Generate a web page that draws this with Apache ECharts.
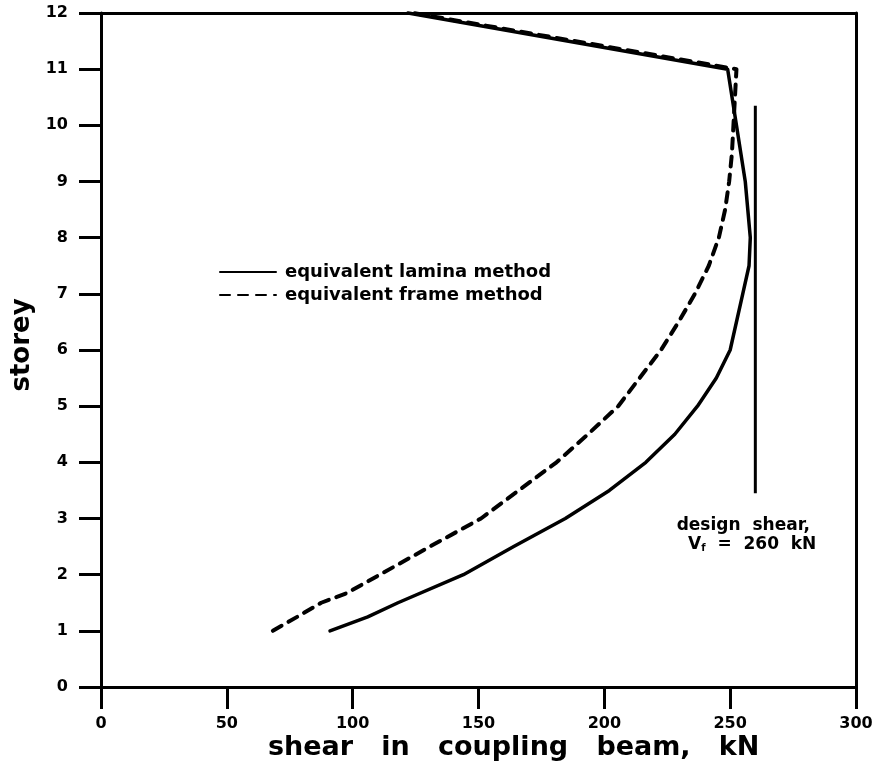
<!DOCTYPE html>
<html>
<head>
<meta charset="utf-8">
<script src="https://cdn.jsdelivr.net/npm/echarts@6/dist/echarts.min.js"></script>
<style>
  html, body { margin: 0; padding: 0; background: #fff; }
  #chart { width: 877px; height: 780px; }
</style>
</head>
<body>
<div id="chart"></div>
<script>
// Shear in the coupling beam at each storey (kN)
const storeyLamina = [1, 1.25, 1.5, 2, 2.5, 3, 3.5, 4, 4.5, 5, 5.5, 6, 7, 7.5, 8, 9, 10, 11, 12];
const shearLamina  = [91, 106, 118, 144, 164, 184.5, 202, 216.5, 228, 237, 244.5, 250, 255, 257.5, 258, 256, 252.5, 249, 122];

const storeyFrame = [1, 1.25, 1.5, 1.67, 2, 2.5, 3, 3.5, 4, 4.5, 5, 5.5, 6, 6.5, 7, 7.5, 8, 8.5, 9, 9.5, 10, 11, 12];
const shearFrame  = [68.3, 78, 87.5, 97.6, 110.8, 130.7, 151, 166, 181, 193.5, 205.5, 214, 222.5, 229.5, 236, 241.5, 245.5, 248, 249.6, 250.7, 251.3, 252.5, 124];

// Design shear V_f and the storey span of its marker line
const designShear = 260;
const designStoreys = [3.45, 10.35];

const xTicks = [0, 50, 100, 150, 200, 250, 300];
const yTicks = [0, 1, 2, 3, 4, 5, 6, 7, 8, 9, 10, 11, 12];

const seriesNames = ['equivalent lamina method', 'equivalent frame method'];

const pairs = (xs, ys) => xs.map((x, i) => [x, ys[i]]);

const FONT = '"DejaVu Sans", sans-serif';
const INK = '#000';

const chart = echarts.init(document.getElementById('chart'), null, { renderer: 'canvas' });

chart.setOption({
  animation: false,
  backgroundColor: '#fff',
  grid: { left: 101, right: 21, top: 13, bottom: 93, containLabel: false },
  legend: {
    data: seriesNames,
    orient: 'vertical',
    left: 214,
    top: 258,
    itemWidth: 56,
    itemHeight: 14,
    itemGap: 5,
    itemStyle: { opacity: 0 },
    textStyle: { fontFamily: FONT, fontWeight: 'bold', fontSize: 18, color: INK, padding: [0, 0, 0, 4] },
    selectedMode: false
  },
  xAxis: [{
    type: 'value',
    min: xTicks[0],
    max: xTicks[xTicks.length - 1],
    interval: 50,
    axisLine: { show: true, onZero: false, lineStyle: { color: INK, width: 3 } },
    axisTick: { show: true, inside: false, length: 22, lineStyle: { color: INK, width: 3 } },
    axisLabel: { margin: 29, fontFamily: FONT, fontWeight: 'bold', fontSize: 16, color: INK },
    splitLine: { show: false }
  }, {
    type: 'value',
    position: 'top',
    min: xTicks[0],
    max: xTicks[xTicks.length - 1],
    axisLine: { show: true, onZero: false, lineStyle: { color: INK, width: 3 } },
    axisTick: { show: false },
    axisLabel: { show: false },
    splitLine: { show: false }
  }],
  yAxis: [{
    type: 'value',
    min: yTicks[0],
    max: yTicks[yTicks.length - 1],
    interval: 1,
    axisLine: { show: true, onZero: false, lineStyle: { color: INK, width: 3 } },
    axisTick: { show: true, inside: false, length: 22, lineStyle: { color: INK, width: 3 } },
    axisLabel: { margin: 33, fontFamily: FONT, fontWeight: 'bold', fontSize: 16, color: INK },
    splitLine: { show: false }
  }, {
    type: 'value',
    position: 'right',
    min: yTicks[0],
    max: yTicks[yTicks.length - 1],
    axisLine: { show: true, onZero: false, lineStyle: { color: INK, width: 3 } },
    axisTick: { show: false },
    axisLabel: { show: false },
    splitLine: { show: false }
  }],
  series: [{
    name: seriesNames[0],
    type: 'line',
    data: pairs(shearLamina, storeyLamina),
    showSymbol: false,
    symbol: 'none',
    clip: false,
    lineStyle: { color: INK, width: 3.5, cap: 'round', join: 'round' },
    itemStyle: { color: INK },
    z: 3
  }, {
    name: seriesNames[1],
    type: 'line',
    data: pairs(shearFrame, storeyFrame),
    showSymbol: false,
    symbol: 'none',
    clip: false,
    lineStyle: { color: INK, width: 4, type: [10, 8], cap: 'round', join: 'round' },
    itemStyle: { color: INK },
    z: 3
  }, {
    name: 'design shear',
    type: 'line',
    data: [
      [designShear, designStoreys[0]],
      [designShear, designStoreys[1]]
    ].map((p, i) => i === 0 ? {
      value: p,
      label: {
        show: true,
        position: 'bottom',
        distance: 22,
        offset: [-12, 0],
        align: 'center',
        formatter: '{a|design  shear,}\n{a|   V}{s|f}{a|  =  ' + designShear + '  kN}',
        rich: {
          a: { fontFamily: FONT, fontWeight: 'bold', fontSize: 17, color: INK, lineHeight: 19 },
          s: { fontFamily: FONT, fontWeight: 'bold', fontSize: 10, color: INK, lineHeight: 19, verticalAlign: 'bottom', padding: [6, 0, 0, 0] }
        }
      }
    } : { value: p }),
    showSymbol: true,
    symbol: 'circle',
    symbolSize: 1,
    itemStyle: { color: 'rgba(0,0,0,0)' },
    lineStyle: { color: INK, width: 3 },
    z: 2
  }],
  graphic: [{
    type: 'text',
    left: 268,
    top: 734,
    style: {
      text: 'shear   in   coupling   beam,   kN',
      font: 'bold 27px "DejaVu Sans", sans-serif',
      fill: INK
    }
  }, {
    type: 'text',
    x: 22,
    y: 345,
    rotation: Math.PI / 2,
    style: {
      text: 'storey',
      font: 'bold 26px "DejaVu Sans", sans-serif',
      fill: INK,
      align: 'center',
      verticalAlign: 'middle'
    }
  }]
});
</script>
</body>
</html>
